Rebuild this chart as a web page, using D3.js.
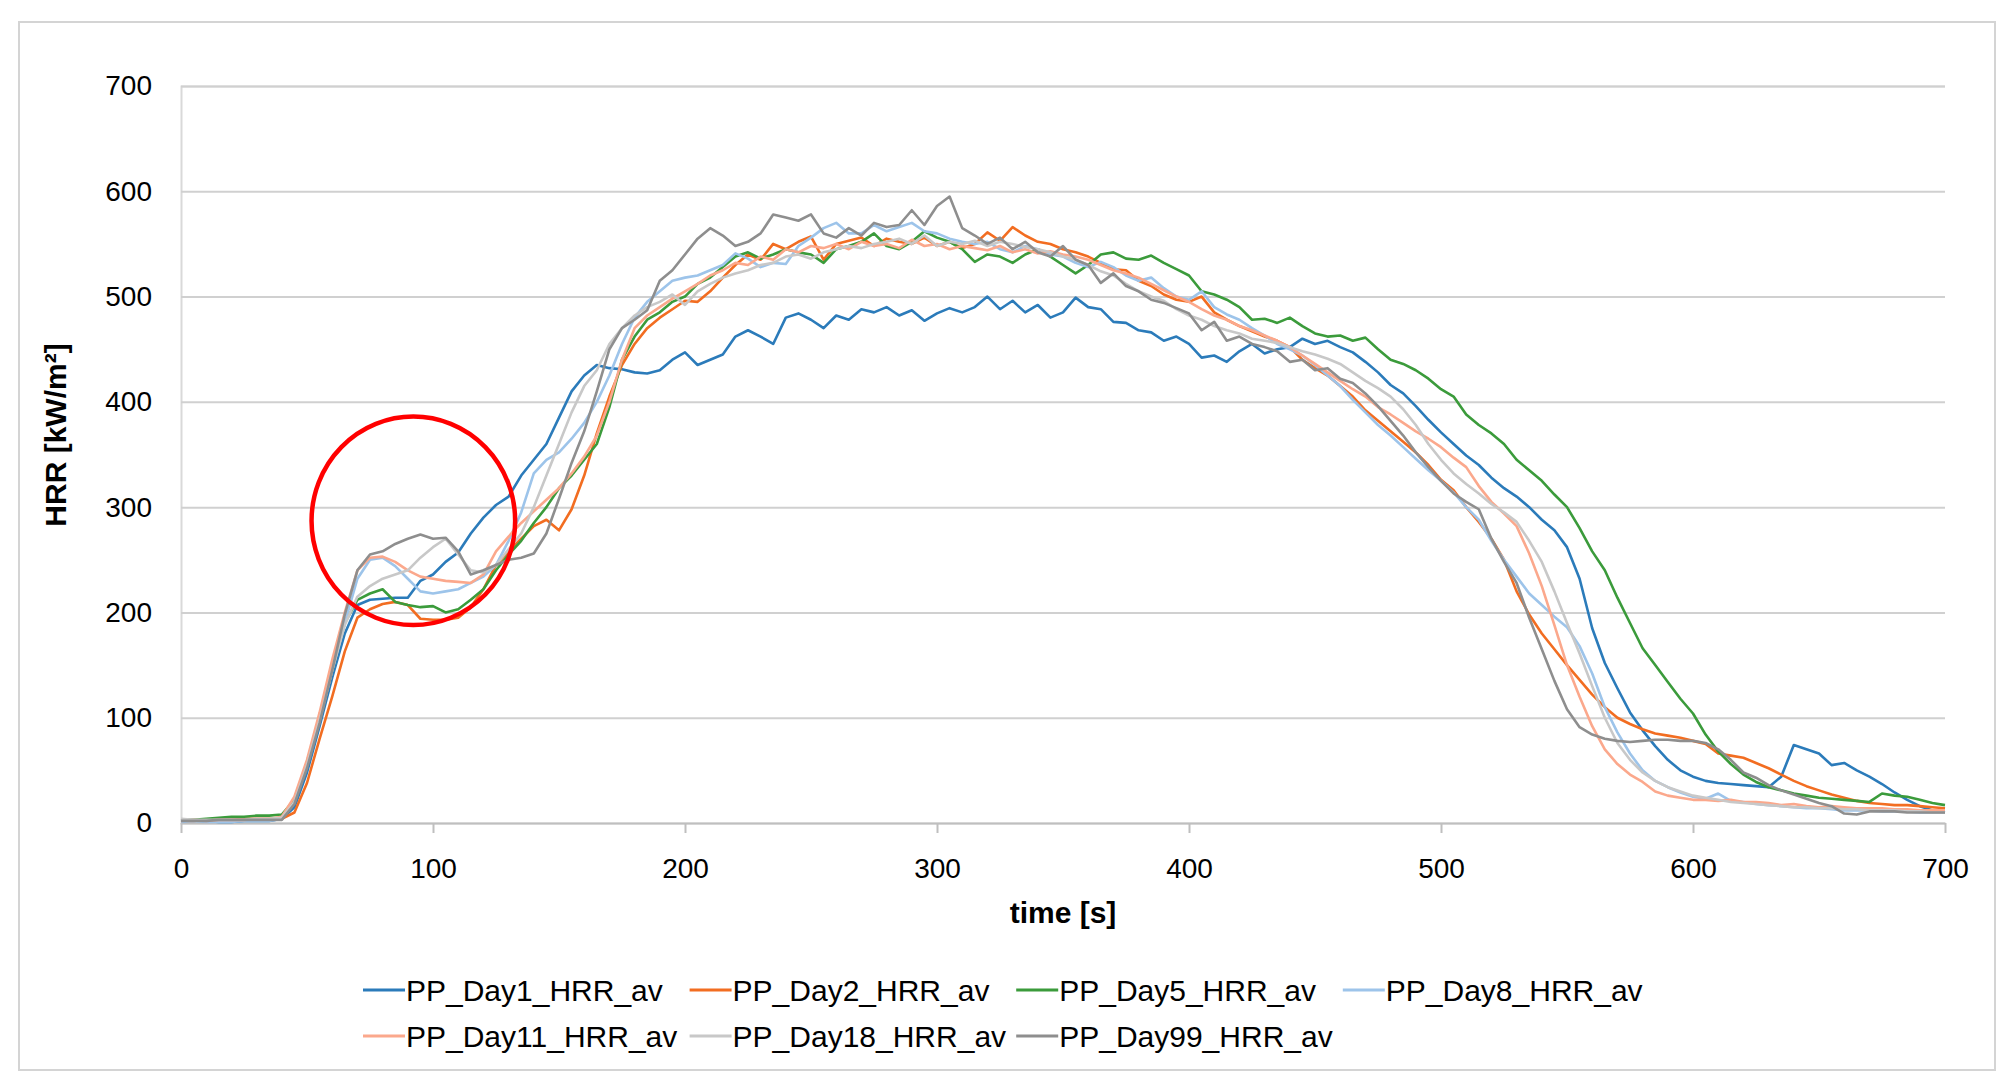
<!DOCTYPE html>
<html>
<head>
<meta charset="utf-8">
<script src="https://cdn.jsdelivr.net/npm/d3@7"></script>
<style>
  body { margin: 0; background: #fff; }
  svg { display: block; }
</style>
</head>
<body>
<div id="chart"></div>
<script>
// time axis, one reading every 5 s
const times = d3.range(0, 701, 5);

// HRR readings [kW/m2]
const day1 = [2,3,2,1,1,2,2,2,4, 15,48,92,138,180,207,212,213,214,214,230,236,248,257,275,290,302,310,330,345,360,385,410,425,435,432,431,428,427,430,440,447,435,440,445, 462,468,462,455,480,484,478,470,482,478,488,485,490,482,487,477,484,489,485,490,500,488,496,485,492,480,485,499,490,488,476,475,468,466,458,462,455, 442,444,438,448,455,446,450,452,460,455,458,452,447,438,428,416,408,396,383,371,360,349,340,328,318,310,300,288,278,262,232,185,152,128,105,88,73,60,50,44,40,38,37,36,35,34,44,74,70,66,55,57,50,44,37,29,22,16,12,10];
const day2 = [2,2,3,3,3,4,4,4,4, 10,38,80,120,163,195,203,208,210,207,194,193,193,195,205,222,245,258,270,282,288,278,298,330,370,405,435,455,470,480,488,496,495,505,518, 530,540,535,550,545,552,557,535,550,553,556,548,555,552,550,556,548,552,546,550,561,553,566,558,552,550,545,542,538,532,526,525,515,510,502,497,495, 500,485,478,472,467,462,458,452,440,432,425,415,405,392,382,372,362,352,340,326,316,300,286,270,250,220,198,180,165,150,136,122,110,100,94,89,85,83,81,78,75,66,64,62,57,52,46,40,35,31,27,24,21,19,18,17,17,16,15,14];
const day5 = [3,3,4,5,6,6,7,7,8, 22,58,100,145,190,212,218,222,210,207,205,206,200,203,212,222,240,255,268,285,300,318,330,345,360,395,440,462,478,485,495,500,512,518,528, 538,542,536,540,545,542,540,532,545,548,552,560,548,545,552,562,556,552,545,533,540,538,532,540,545,538,530,522,530,540,542,536,535,539,532,526,520, 505,502,497,490,478,479,475,480,472,465,462,463,458,461,450,440,436,430,422,412,405,388,378,370,360,345,335,325,312,300,280,258,240,214,190,166,150,134,118,104,84,68,56,46,39,34,31,28,26,24,23,22,21,20,28,26,25,22,19,17];
const day8 = [1,2,1,1,1,2,2,2,4, 20,55,98,145,190,232,250,252,244,232,220,218,220,222,228,234,245,268,295,332,345,352,365,380,400,425,455,480,495,505,515,518,520,525,530, 541,536,528,532,531,548,556,565,570,560,560,568,562,566,570,562,560,555,552,550,552,545,542,548,545,540,538,532,528,533,528,520,515,518,508,500,497, 505,490,483,478,470,463,455,450,444,435,425,415,402,390,378,368,357,346,335,325,314,300,288,268,250,234,218,207,196,186,168,142,110,86,66,50,40,34,29,25,23,28,21,20,18,17,16,15,14,14,13,12,12,12,11,11,11,10,10,10];
const day11 = [2,3,2,3,3,3,4,4,6, 25,60,105,155,200,240,252,253,248,240,234,232,230,229,228,236,258,272,285,296,307,318,332,348,368,400,440,470,482,490,498,505,512,520,525, 532,530,538,535,545,542,548,546,550,545,552,548,550,546,554,548,550,545,548,546,544,548,542,545,541,543,540,538,535,530,525,522,518,512,506,500,495, 488,482,478,472,468,463,458,452,444,436,428,420,412,405,395,388,380,372,365,357,347,338,320,305,294,282,256,225,188,150,120,92,70,56,46,39,30,26,24,22,22,21,22,20,20,19,17,18,16,15,16,15,14,14,14,13,13,12,12,12];
const day18 = [4,3,3,3,3,3,4,4,5, 20,55,98,145,188,215,225,232,236,240,252,262,270,255,240,238,245,260,275,300,330,360,390,415,430,455,470,482,490,495,502,492,505,512,518, 522,525,530,532,538,540,536,542,545,548,546,550,552,555,550,558,548,552,550,553,548,552,550,547,545,542,538,535,530,524,520,512,505,500,496,488,482, 478,472,468,465,460,458,456,452,448,445,441,436,428,420,413,405,393,378,360,345,332,322,313,303,295,286,268,248,220,190,161,130,100,76,60,48,40,34,30,26,24,22,20,19,18,17,16,15,15,14,14,13,13,12,12,12,11,11,10,10];
const day99 = [2,2,2,3,3,3,3,3,3, 18,52,95,145,198,240,255,258,265,270,274,270,271,258,236,240,245,250,252,256,275,308,342,372,410,450,470,478,487,515,525,540,555,565,558, 548,552,560,578,575,572,578,560,556,565,558,570,566,568,582,568,586,595,565,558,550,556,545,552,542,538,548,535,530,513,522,510,505,497,494,489,484, 468,476,458,462,455,452,448,438,440,430,432,422,418,408,396,382,368,352,338,325,313,305,298,270,248,228,195,165,135,108,91,84,80,78,77,78,79,79,78,78,76,70,60,48,43,36,31,27,23,19,16,9,8,11,11,11,10,10,10,10];

const seriesNames = ['PP_Day1_HRR_av', 'PP_Day2_HRR_av', 'PP_Day5_HRR_av', 'PP_Day8_HRR_av',
                     'PP_Day11_HRR_av', 'PP_Day18_HRR_av', 'PP_Day99_HRR_av'];
const seriesValues = [day1, day2, day5, day8, day11, day18, day99];
const seriesColors = ['#2b7bba', '#f26d21', '#3b9b3b', '#9dc4ea', '#fba88c', '#c8c8c8', '#8e8e8e'];

const xTicks = [0, 100, 200, 300, 400, 500, 600, 700];
const yTicks = [0, 100, 200, 300, 400, 500, 600, 700];

// red ring around the early hump (centre and half-size in data units)
const highlight = [{t: 92.2, v: 287, dt: 40.4, dv: 99}];

const W = 2016, H = 1089;
const x = d3.scaleLinear().domain([0, 700]).range([181, 1945]);
const y = d3.scaleLinear().domain([0, 700]).range([823, 86]);
const plotW = x(700) - x(0);

const svg = d3.select('#chart').append('svg')
    .attr('width', W)
    .attr('height', H)
    .style('font-family', '"Liberation Sans", Arial, sans-serif');

svg.append('rect')
    .attr('x', 0).attr('y', 0).attr('width', W).attr('height', H)
    .attr('fill', '#fff');

// outer frame
svg.append('rect')
    .attr('x', 19).attr('y', 22).attr('width', 1976).attr('height', 1048)
    .attr('fill', 'none').attr('stroke', '#d4d4d4').attr('stroke-width', 2);

// gridlines
const grid = svg.append('g')
    .attr('transform', `translate(${x(0)},0)`)
    .call(d3.axisLeft(y).tickValues(yTicks.filter(d => d > 0)).tickSize(-plotW).tickFormat(''));
grid.select('.domain').attr('stroke', '#d9d9d9').attr('stroke-width', 2);
grid.selectAll('.tick line').attr('stroke', '#d0d0d0').attr('stroke-width', 2);

// y labels
const yAxis = svg.append('g')
    .attr('transform', `translate(${x(0)},0)`)
    .call(d3.axisLeft(y).tickValues(yTicks).tickSize(0).tickPadding(29));
yAxis.select('.domain').remove();
yAxis.selectAll('text')
    .style('font-family', '"Liberation Sans", Arial, sans-serif')
    .style('font-size', '28px')
    .attr('fill', '#000');

// x axis
const xAxis = svg.append('g')
    .attr('transform', `translate(0,${y(0)})`)
    .call(d3.axisBottom(x).tickValues(xTicks).tickSize(10).tickSizeOuter(0).tickPadding(25));
xAxis.select('.domain').attr('stroke', '#bfbfbf').attr('stroke-width', 2);
xAxis.selectAll('.tick line').attr('stroke', '#bfbfbf').attr('stroke-width', 2);
xAxis.selectAll('text')
    .style('font-family', '"Liberation Sans", Arial, sans-serif')
    .style('font-size', '28px')
    .attr('fill', '#000');

// series
const line = d3.line()
    .x((d, i) => x(times[i]))
    .y(d => y(d));

svg.append('g')
    .selectAll('path')
    .data(seriesValues)
    .join('path')
    .attr('d', d => line(d))
    .attr('fill', 'none')
    .attr('stroke', (d, i) => seriesColors[i])
    .attr('stroke-width', 2.6)
    .attr('stroke-linejoin', 'round');

// annotation ring
svg.append('g')
    .selectAll('ellipse')
    .data(highlight)
    .join('ellipse')
    .attr('cx', d => x(d.t))
    .attr('cy', d => y(d.v))
    .attr('rx', d => x(d.t + d.dt) - x(d.t))
    .attr('ry', d => y(d.v - d.dv) - y(d.v))
    .attr('fill', 'none')
    .attr('stroke', '#ff0000')
    .attr('stroke-width', 4.5);

// axis titles
svg.append('text')
    .attr('x', (x(0) + x(700)) / 2)
    .attr('y', 923)
    .attr('text-anchor', 'middle')
    .style('font-size', '30px')
    .style('font-weight', 'bold')
    .text('time [s]');

svg.append('text')
    .attr('transform', 'translate(66,435) rotate(-90)')
    .attr('text-anchor', 'middle')
    .style('font-size', '30px')
    .style('font-weight', 'bold')
    .text('HRR [kW/m²]');

// legend
const legend = svg.append('g')
    .selectAll('g')
    .data(seriesNames)
    .join('g')
    .attr('transform', (d, i) => `translate(${363 + (i % 4) * 326.6},${990 + Math.floor(i / 4) * 46})`);

legend.append('line')
    .attr('x1', 0).attr('x2', 42)
    .attr('y1', 0).attr('y2', 0)
    .attr('stroke', (d, i) => seriesColors[i])
    .attr('stroke-width', 3);

legend.append('text')
    .attr('x', 43)
    .attr('y', 11)
    .style('font-size', '30px')
    .attr('fill', '#000')
    .text(d => d);
</script>
</body>
</html>
